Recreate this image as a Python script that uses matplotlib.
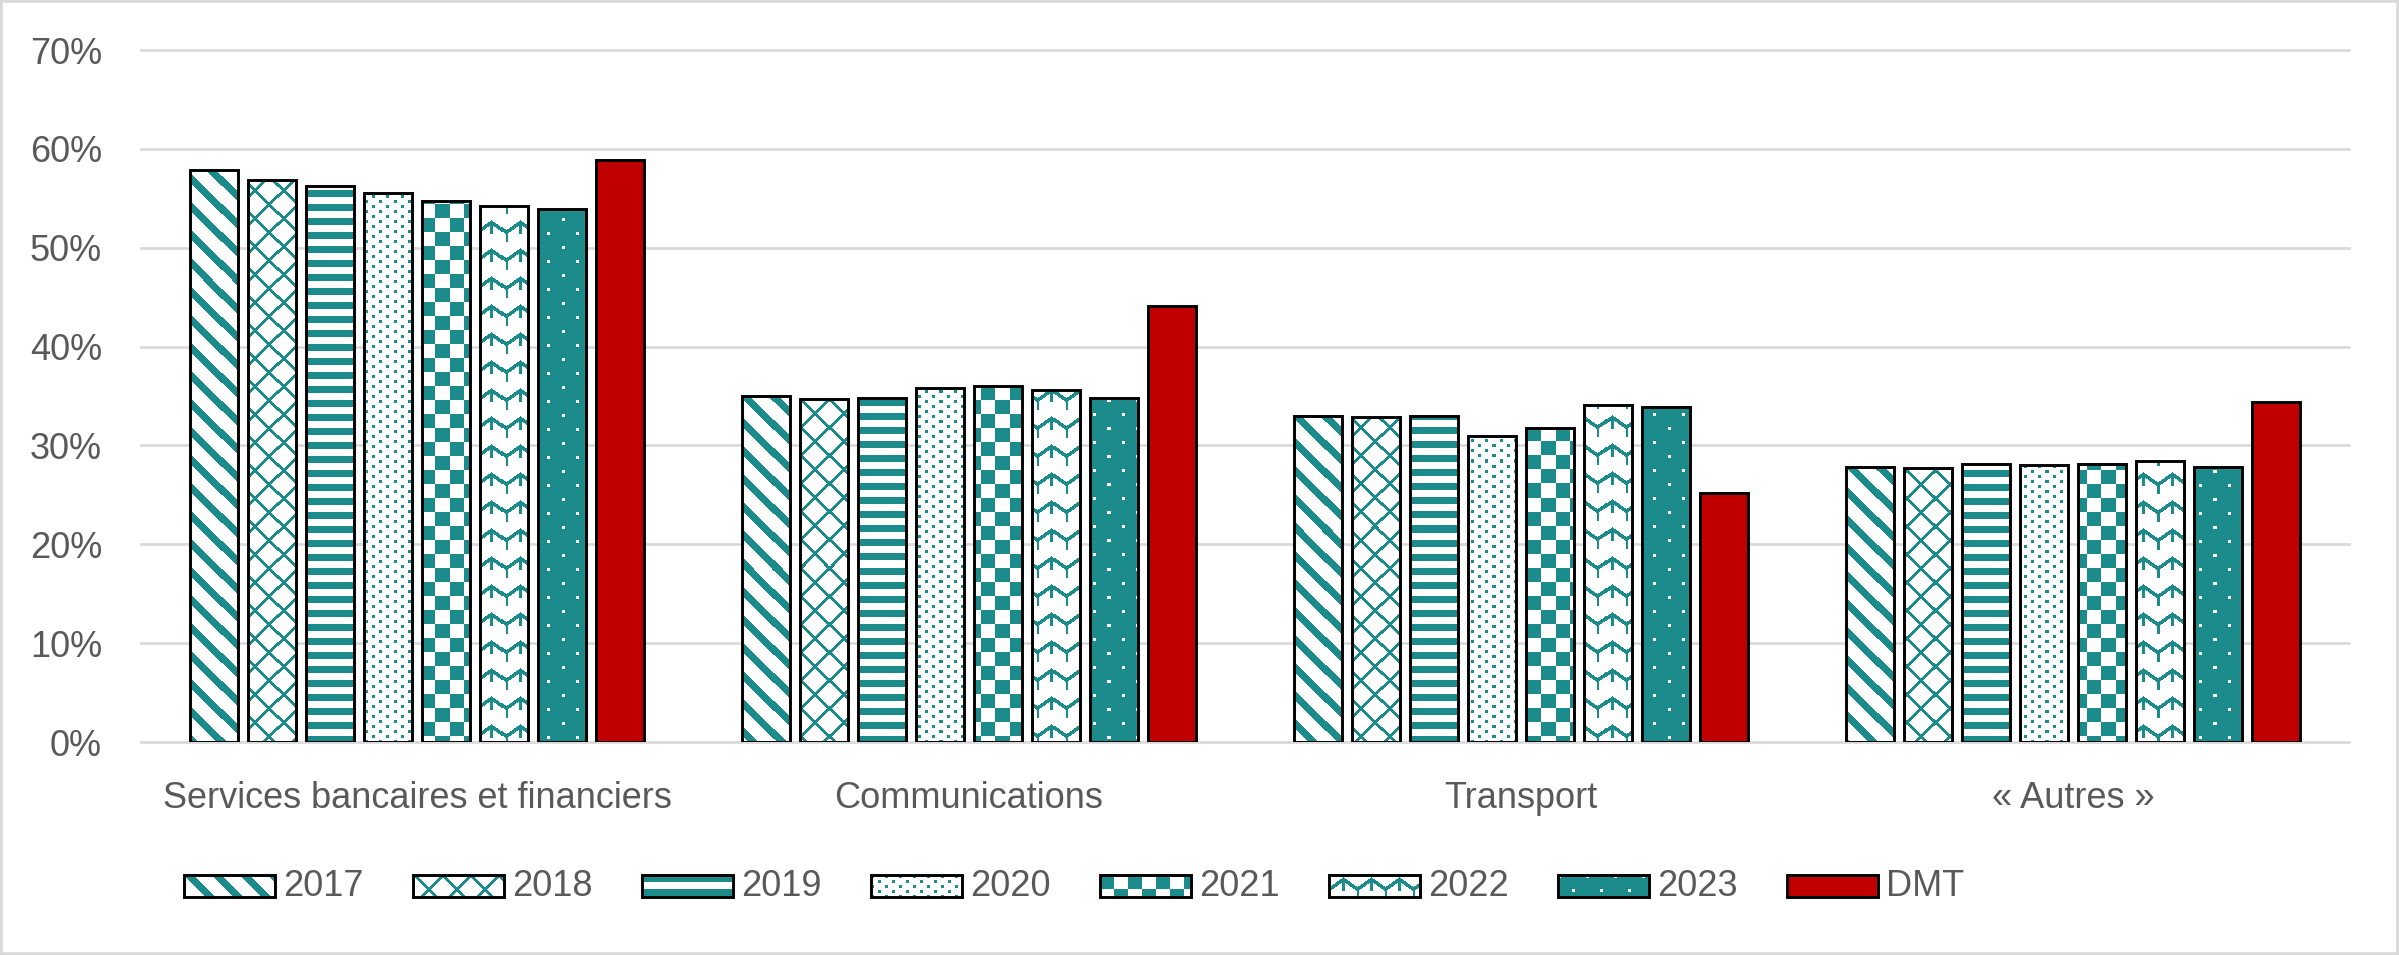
import numpy as np
import matplotlib.pyplot as plt
from matplotlib.patches import Rectangle
from matplotlib.colors import to_rgb

plt.rcParams['font.family'] = ['Liberation Sans', 'DejaVu Sans']

# data (percent)
categories = ['Services bancaires et financiers', 'Communications', 'Transport', '« Autres »']
series_names = ['2017', '2018', '2019', '2020', '2021', '2022', '2023', 'DMT']
v2017 = [57.9, 35.0, 33.0, 27.8]
v2018 = [56.8, 34.7, 32.9, 27.7]
v2019 = [56.2, 34.8, 33.0, 28.1]
v2020 = [55.5, 35.8, 31.0, 28.0]
v2021 = [54.7, 36.0, 31.8, 28.1]
v2022 = [54.2, 35.6, 34.1, 28.4]
v2023 = [53.9, 34.8, 33.9, 27.8]
v_dmt = [58.9, 44.1, 25.2, 34.4]
yticks = [0, 10, 20, 30, 40, 50, 60, 70]

series = [v2017, v2018, v2019, v2020, v2021, v2022, v2023, v_dmt]
patterns = ['wdiag', 'lattice', 'hstripe', 'dots', 'checker', 'wave', 'wdots', None]

TEAL = '#1B8B8B'
RED = '#C00000'
GRID = '#D9D9D9'
TXT = '#595959'


def pattern_mask(name, xx, yy):
    # True where the pixel is teal
    if name == 'wdiag':
        return ((xx - yy) % 28) < 10
    if name == 'lattice':
        return (((xx - yy) % 28) < 4) | (((xx + yy) % 28) < 4)
    if name == 'hstripe':
        return (yy % 14) < 7
    if name == 'dots':
        r = yy // 5
        return ((yy % 5) < 3) & (((xx + 7 * (r % 2)) % 14) < 3)
    if name == 'checker':
        return ((xx // 14 + yy // 14) % 2) == 0
    if name == 'wave':
        px = xx % 28
        py = yy % 28
        zig = np.abs(px - 14) * 0.7
        line = np.abs(py - (4 + zig)) < 2.2
        stem = (np.abs(px - 14) < 2) & (py >= 4) & (py < 16)
        stem2 = (px < 2) & (py >= 14) & (py < 24)
        return line | stem | stem2
    if name == 'wdots':
        a = ((xx % 28) < 3) & ((yy % 28) < 3)
        b = (((xx + 14) % 28) < 3) & (((yy + 14) % 28) < 3)
        return ~(a | b)
    return np.zeros_like(xx, dtype=bool)


def pattern_img(name, w, h):
    yy, xx = np.mgrid[0:h, 0:w]
    m = pattern_mask(name, xx, yy)
    img = np.ones((h, w, 3))
    img[m] = to_rgb(TEAL)
    return img


W, H = 2399, 955
fig = plt.figure(figsize=(W / 100, H / 100), dpi=100)
ax_l, ax_b, ax_w, ax_h = 141 / W, 213 / H, 2208 / W, 692 / H
ax = fig.add_axes([ax_l, ax_b, ax_w, ax_h])

x = np.arange(len(categories))
slot = 0.105
bw = 0.087
xlim = (-0.5, len(categories) - 0.5)
ylim = (0, 70)
apx_w, apx_h = int(round(ax_w * W)), int(round(ax_h * H))

for i, (name, vals, pat) in enumerate(zip(series_names, series, patterns)):
    xs = x + (i - 3.5) * slot
    face = RED if pat is None else 'white'
    bars = ax.bar(xs, vals, bw, color=face, edgecolor='none', zorder=2)
    if pat is not None:
        img = pattern_img(pat, apx_w, apx_h)
        for b in bars:
            im = ax.imshow(img, extent=(xlim[0], xlim[1], ylim[0], ylim[1]), origin='upper',
                           aspect='auto', interpolation='nearest', zorder=2.5)
            im.set_clip_path(b)
    ax.bar(xs, vals, bw, fill=False, edgecolor='black', linewidth=2.1, zorder=3)

ax.set_xlim(*xlim)
ax.set_ylim(*ylim)
ax.set_yticks(yticks)
ax.set_yticklabels([f'{t}%' for t in yticks])
ax.set_xticks(x)
ax.set_xticklabels(categories)
ax.tick_params(axis='both', length=0, labelsize=26, labelcolor=TXT)
ax.tick_params(axis='y', pad=28)
ax.tick_params(axis='x', pad=28)
for s in ax.spines.values():
    s.set_visible(False)
ax.yaxis.grid(True, color=GRID, linewidth=1.9)
ax.set_axisbelow(True)
for gl in ax.get_ygridlines():
    gl.set_clip_on(False)

# legend drawn by hand so the swatches keep their patterns
lax = fig.add_axes([0, 0, 1, 1])
lax.axis('off')
sw_w, sw_h = 91, 22
for i, (name, pat) in enumerate(zip(series_names, patterns)):
    x0 = 184 + i * 229
    y0 = 875
    face = RED if pat is None else 'white'
    r = Rectangle((x0, y0), sw_w, sw_h, facecolor=face, edgecolor='none', zorder=2)
    lax.add_patch(r)
    if pat is not None:
        im = lax.imshow(pattern_img(pat, sw_w, sw_h), extent=(x0, x0 + sw_w, y0 + sw_h, y0),
                        origin='upper', aspect='auto', interpolation='nearest', zorder=2.5)
        im.set_clip_path(r)
    lax.add_patch(Rectangle((x0, y0), sw_w, sw_h, fill=False, edgecolor='black',
                            linewidth=2.1, zorder=3))
    lax.text(x0 + sw_w + 8, y0 + sw_h / 2, name, fontsize=26, color=TXT,
             va='center', ha='left')
lax.set_xlim(0, W)
lax.set_ylim(H, 0)

# chart frame
fig.add_artist(Rectangle((0, 0), 1, 1, transform=fig.transFigure, fill=False,
                         edgecolor=GRID, linewidth=4))

fig.savefig('out.png', dpi=100)
